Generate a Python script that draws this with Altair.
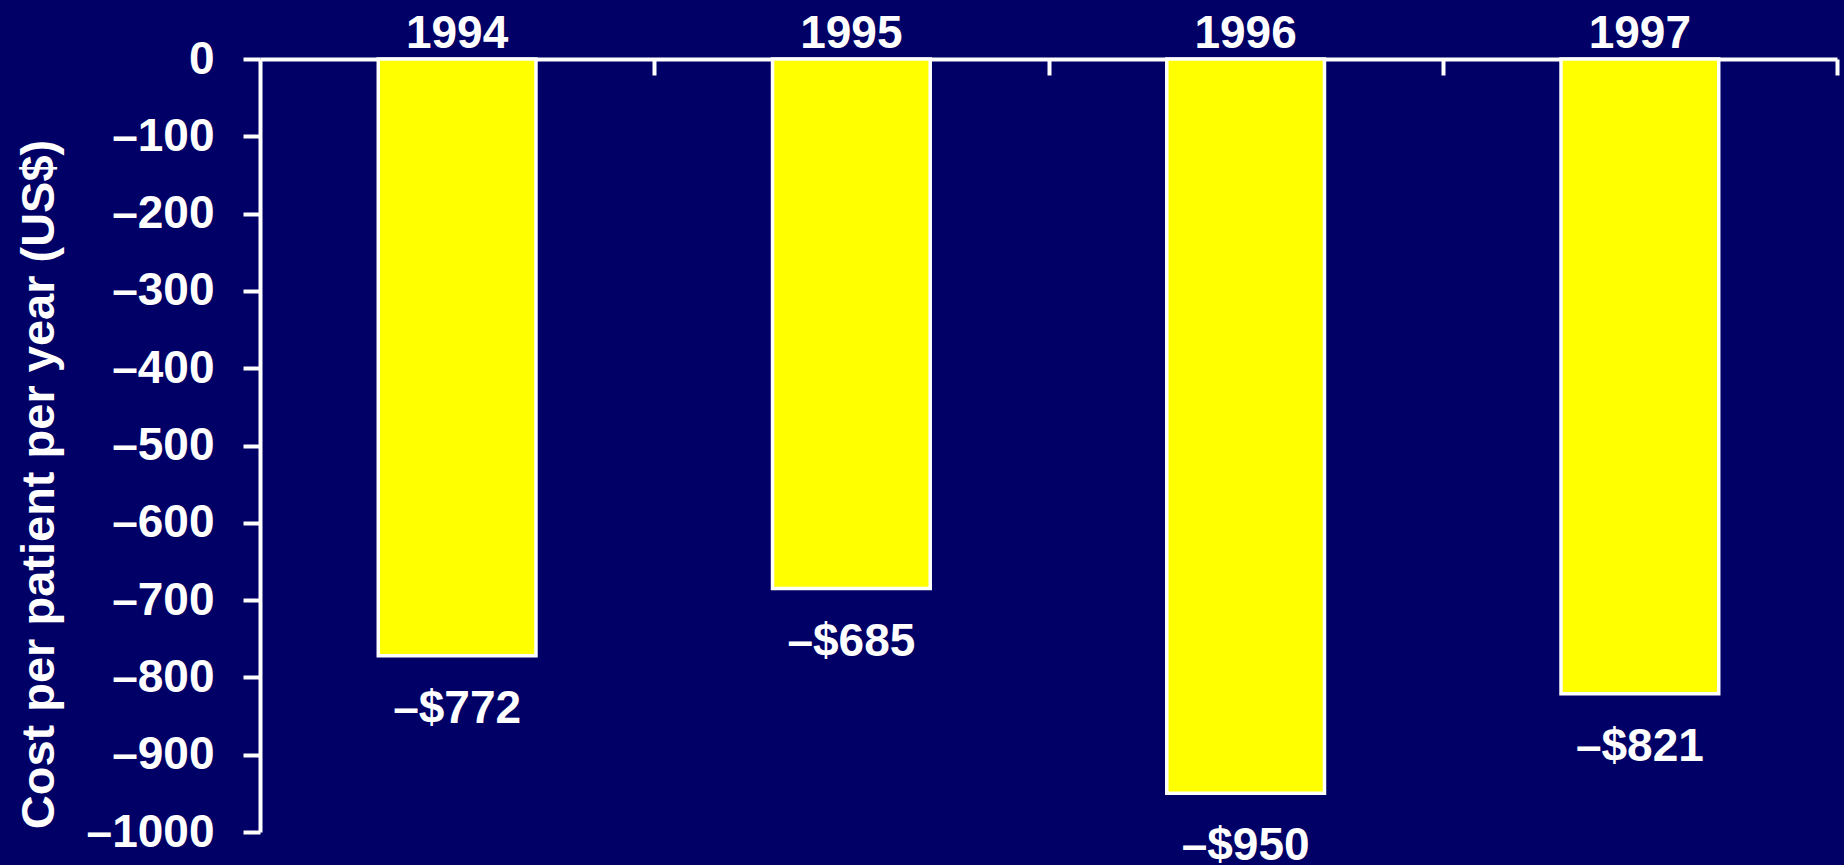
import altair as alt
import pandas as pd

# Annual cost difference per patient (US$)
years = ["1994", "1995", "1996", "1997"]
costs = [-772, -685, -950, -821]
y_ticks = list(range(0, -1001, -100))

df = pd.DataFrame({"year": years, "cost": costs})
df["label"] = ["\u2013$" + str(abs(c)) for c in costs]

FONT = "Liberation Sans"
NAVY = "#000066"
PLOT_W, PLOT_H = 1577, 773

x_scale = alt.Scale(paddingInner=0.6, paddingOuter=0.3)
y_scale = alt.Scale(domain=[-1000, 0], nice=False)

y_axis = alt.Axis(
    values=y_ticks, grid=False,
    labelExpr="datum.value < 0 ? '\u2013' + format(-datum.value, 'd') : '0'",
    domainColor="white", domainWidth=4,
    tickColor="white", tickWidth=4, tickSize=17,
    labelColor="white", labelFont=FONT, labelFontSize=46,
    labelFontWeight="bold", labelPadding=29,
    title="Cost per patient per year (US$)",
    titleColor="white", titleFont=FONT, titleFontSize=47,
    titleFontWeight="bold", titleAngle=270,
    titleAlign="center", titleBaseline="alphabetic",
    titleX=-207, titleY=425,
)

bars = alt.Chart(df).mark_bar(
    color="#FFFF00", stroke="white", strokeWidth=3.5
).encode(
    x=alt.X(
        "year:N", sort=years, scale=x_scale,
        axis=alt.Axis(
            orient="top", title=None, labelAngle=0,
            ticks=False, tickSize=0,
            domainColor="white", domainWidth=4,
            labelColor="white", labelFont=FONT, labelFontSize=46,
            labelFontWeight="bold", labelPadding=12,
            labelBaseline="alphabetic",
        ),
    ),
    y=alt.Y("cost:Q", scale=y_scale, axis=y_axis),
)

# value labels under each bar; their layer also carries the category
# separator ticks that hang down from the top axis line
labels = alt.Chart(df).mark_text(
    font=FONT, fontSize=46, fontWeight="bold", color="white",
    align="center", baseline="alphabetic", dy=67,
).encode(
    x=alt.X(
        "year:N", sort=years, scale=x_scale,
        axis=alt.Axis(
            orient="bottom", offset=-PLOT_H, title=None,
            labels=False, domain=False,
            ticks=True, tickSize=16, tickWidth=4,
            tickOffset=PLOT_W / 8, tickColor="white",
        ),
    ),
    y=alt.Y("cost:Q", scale=y_scale, axis=y_axis),
    text="label:N",
)

chart = alt.layer(bars, labels).resolve_axis(x="independent").properties(
    width=PLOT_W,
    height=PLOT_H,
    background=NAVY,
    padding={"left": 260, "top": 59, "right": 7, "bottom": 33},
    autosize=alt.AutoSizeParams(type="none"),
).configure_view(stroke=None)

chart.save("out.html", embed_options={"renderer": "svg", "actions": False})
